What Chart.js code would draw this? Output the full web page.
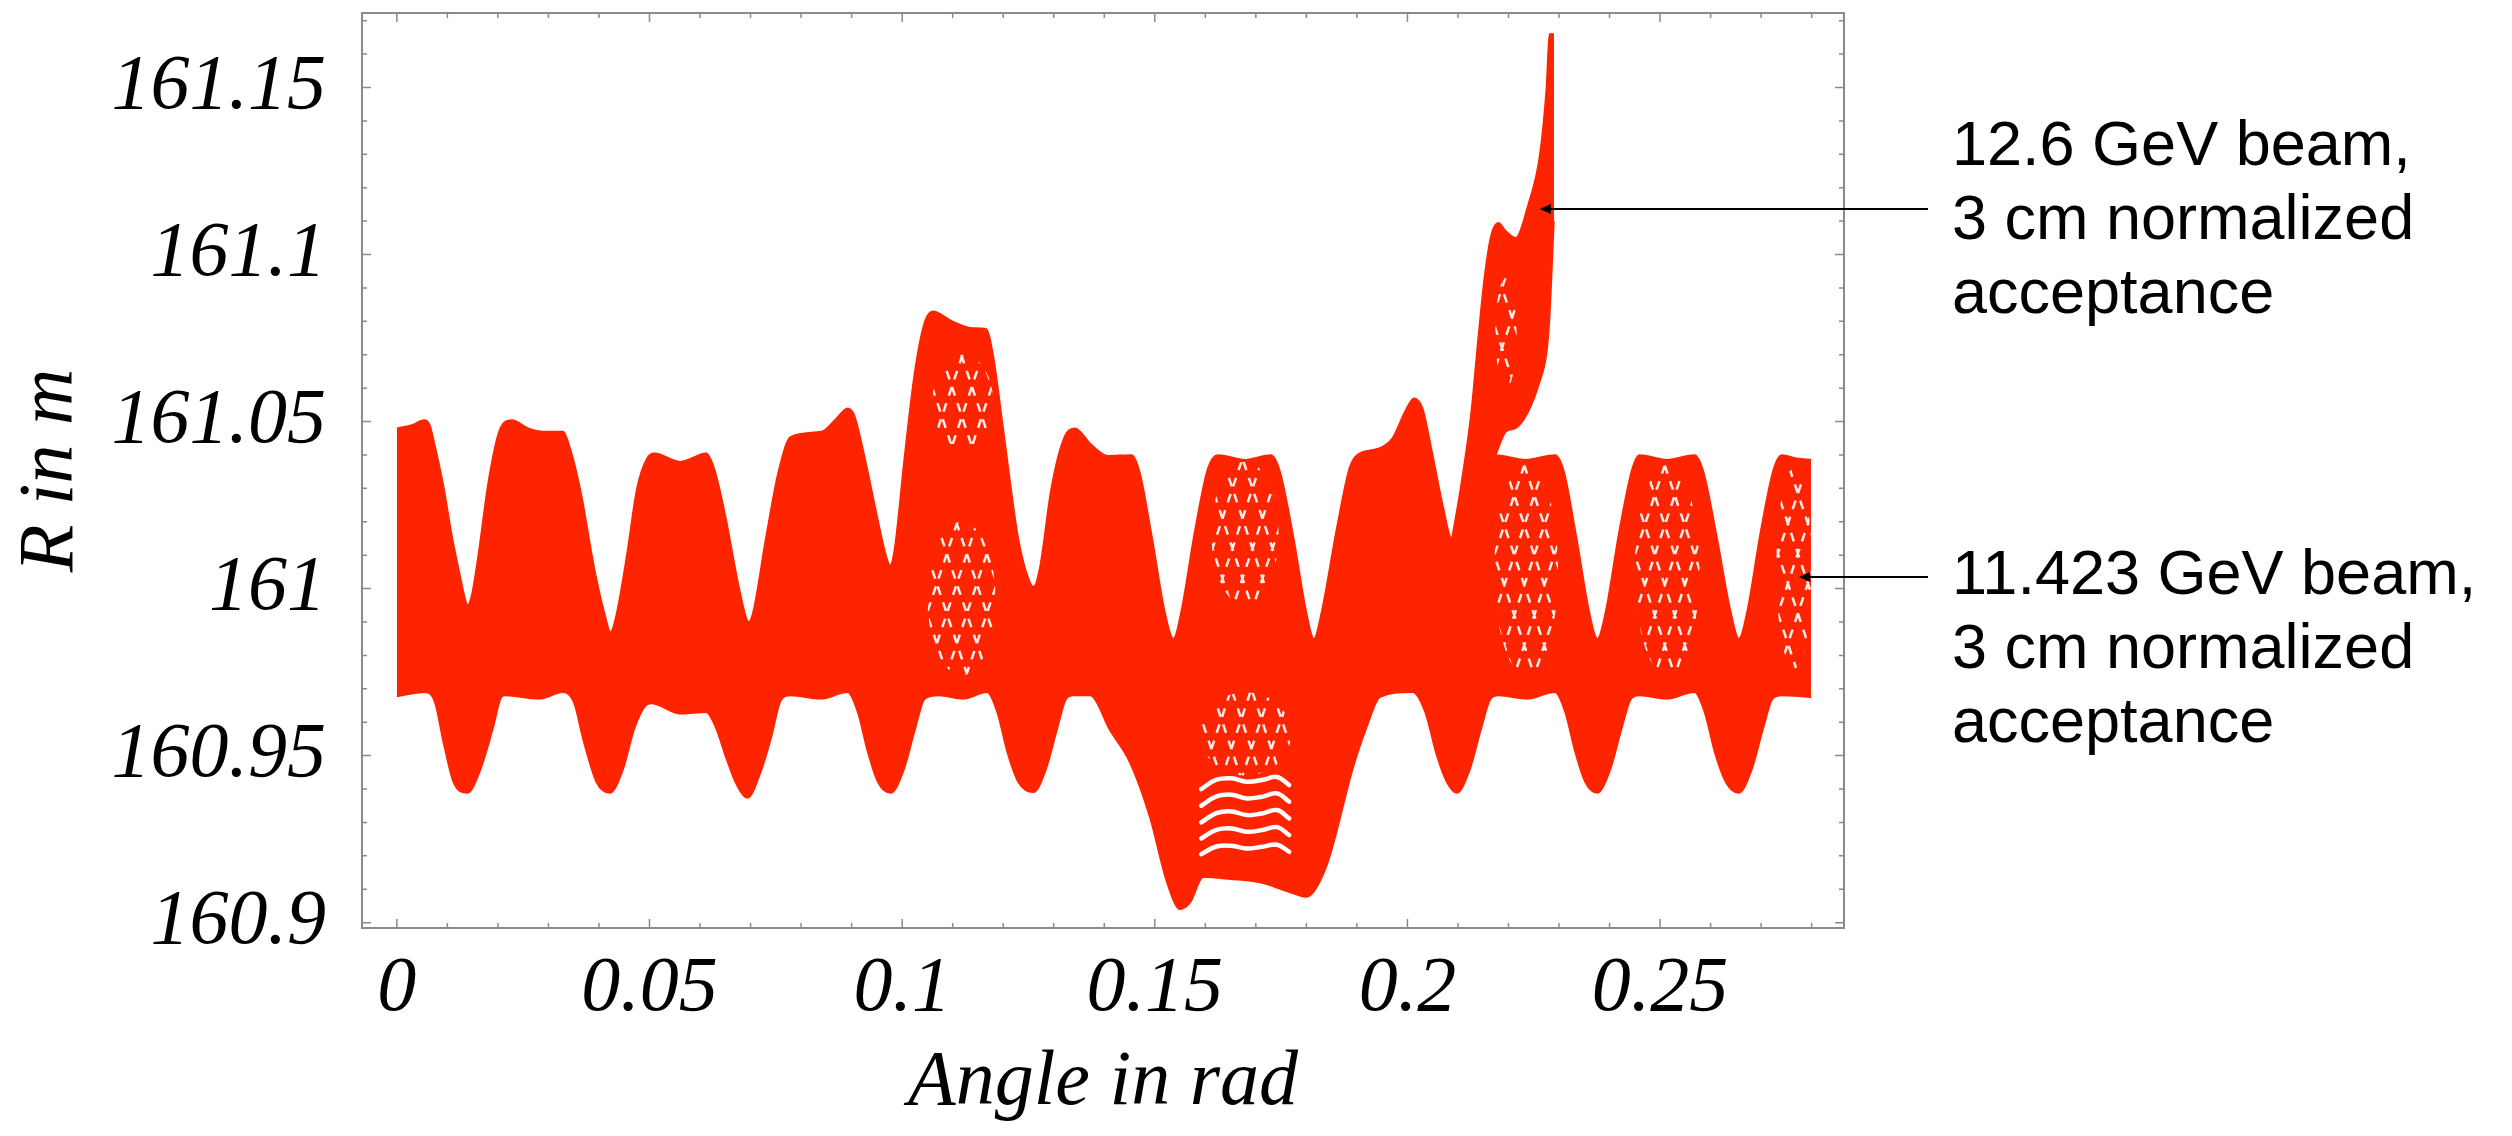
<!DOCTYPE html>
<html>
<head>
<meta charset="utf-8">
<script src="https://cdn.jsdelivr.net/npm/chart.js@4.4.1/dist/chart.umd.min.js"></script>
<style>
  html, body { margin: 0; padding: 0; background: #fff; }
</style>
</head>
<body>
<canvas id="c" width="2512" height="1136"></canvas>
<script>
  // Hüllkurven des Strahlbands (Winkel in rad, R in m)
  var upperAngle = [0.0000, 0.0030, 0.0054, 0.0065, 0.0075, 0.0092, 0.0110, 0.0125, 0.0135, 0.0140, 0.0148, 0.0162, 0.0180, 0.0200, 0.0214, 0.0228, 0.0260, 0.0290, 0.0329, 0.0343, 0.0364, 0.0391, 0.0412, 0.0423, 0.0434, 0.0455, 0.0475, 0.0495, 0.0510, 0.0561, 0.0612, 0.0628, 0.0650, 0.0675, 0.0690, 0.0696, 0.0705, 0.0730, 0.0755, 0.0779, 0.0840, 0.0870, 0.0892, 0.0905, 0.0925, 0.0950, 0.0968, 0.0976, 0.0985, 0.1005, 0.1025, 0.1045, 0.1061, 0.1100, 0.1140, 0.1166, 0.1180, 0.1200, 0.1230, 0.1250, 0.1260, 0.1272, 0.1295, 0.1320, 0.1342, 0.1375, 0.1407, 0.1454, 0.1470, 0.1495, 0.1520, 0.1537, 0.1552, 0.1580, 0.1605, 0.1625, 0.1679, 0.1730, 0.1748, 0.1775, 0.1800, 0.1815, 0.1830, 0.1860, 0.1885, 0.1900, 0.1944, 0.1970, 0.1995, 0.2013, 0.2030, 0.2050, 0.2070, 0.2088, 0.2105, 0.2130, 0.2155, 0.2173, 0.2234, 0.2292, 0.2310, 0.2335, 0.2360, 0.2376, 0.2392, 0.2420, 0.2445, 0.2459, 0.2514, 0.2568, 0.2586, 0.2613, 0.2640, 0.2656, 0.2672, 0.2700, 0.2725, 0.2741, 0.2770, 0.2799];
  var upperR = [161.048, 161.049, 161.0505, 161.049, 161.043, 161.031, 161.015, 161.004, 160.997, 160.995, 160.998, 161.011, 161.031, 161.046, 161.050, 161.0505, 161.048, 161.047, 161.047, 161.042, 161.029, 161.006, 160.992, 160.987, 160.992, 161.010, 161.030, 161.039, 161.0405, 161.038, 161.0405, 161.036, 161.022, 161.002, 160.992, 160.990, 160.993, 161.015, 161.035, 161.0454, 161.047, 161.051, 161.054, 161.052, 161.040, 161.022, 161.010, 161.007, 161.012, 161.040, 161.065, 161.080, 161.083, 161.080, 161.078, 161.0778, 161.070, 161.048, 161.015, 161.003, 161.0006, 161.006, 161.030, 161.045, 161.048, 161.043, 161.0398, 161.040, 161.035, 161.015, 160.993, 160.985, 160.993, 161.018, 161.036, 161.040, 161.0386, 161.040, 161.035, 161.015, 160.993, 160.985, 160.993, 161.018, 161.036, 161.040, 161.042, 161.045, 161.053, 161.057, 161.054, 161.040, 161.025, 161.015, 161.020, 161.033, 161.039, 161.040, 161.0386, 161.040, 161.035, 161.015, 160.993, 160.985, 160.993, 161.018, 161.036, 161.040, 161.0386, 161.040, 161.035, 161.015, 160.993, 160.985, 160.993, 161.018, 161.036, 161.040, 161.039, 161.0386];

  var lowerAngle = [0.0000, 0.0054, 0.0075, 0.0092, 0.0112, 0.0140, 0.0166, 0.0190, 0.0207, 0.0214, 0.0282, 0.0329, 0.0350, 0.0370, 0.0395, 0.0422, 0.0448, 0.0470, 0.0490, 0.0503, 0.0561, 0.0612, 0.0632, 0.0650, 0.0670, 0.0694, 0.0720, 0.0742, 0.0760, 0.0779, 0.0840, 0.0892, 0.0912, 0.0932, 0.0952, 0.0978, 0.1004, 0.1026, 0.1045, 0.1073, 0.1121, 0.1168, 0.1188, 0.1208, 0.1230, 0.1260, 0.1285, 0.1307, 0.1325, 0.1339, 0.1372, 0.1411, 0.1451, 0.1490, 0.1524, 0.1550, 0.1570, 0.1596, 0.1650, 0.1708, 0.1760, 0.1800, 0.1840, 0.1893, 0.1920, 0.1946, 0.2010, 0.2035, 0.2058, 0.2078, 0.2098, 0.2124, 0.2146, 0.2165, 0.2180, 0.2237, 0.2292, 0.2312, 0.2332, 0.2352, 0.2376, 0.2402, 0.2424, 0.2443, 0.2459, 0.2514, 0.2568, 0.2588, 0.2608, 0.2630, 0.2656, 0.2682, 0.2704, 0.2723, 0.2741, 0.2799];
  var lowerR = [160.9677, 160.969, 160.966, 160.954, 160.942, 160.9388, 160.946, 160.958, 160.9675, 160.968, 160.967, 160.969, 160.966, 160.954, 160.942, 160.9388, 160.946, 160.958, 160.9645, 160.9656, 160.9625, 160.963, 160.958, 160.950, 160.942, 160.9373, 160.945, 160.956, 160.9665, 160.968, 160.967, 160.969, 160.963, 160.951, 160.942, 160.9388, 160.946, 160.958, 160.967, 160.968, 160.967, 160.969, 160.963, 160.951, 160.942, 160.939, 160.946, 160.958, 160.967, 160.968, 160.968, 160.9576, 160.9478, 160.9316, 160.912, 160.904, 160.906, 160.9136, 160.913, 160.912, 160.9095, 160.9077, 160.917, 160.9466, 160.9587, 160.9675, 160.969, 160.963, 160.950, 160.942, 160.9388, 160.946, 160.958, 160.967, 160.968, 160.967, 160.969, 160.963, 160.951, 160.942, 160.9388, 160.946, 160.958, 160.967, 160.968, 160.967, 160.969, 160.963, 160.951, 160.942, 160.9388, 160.946, 160.958, 160.967, 160.968, 160.9675];

  // Ausreißer des 12.6-GeV-Strahls bei ~0.22 rad
  var spikeAngle = [0.2088, 0.2105, 0.2126, 0.2140, 0.2153, 0.2166, 0.2180, 0.2195, 0.2214, 0.2238, 0.2262, 0.2275, 0.2281, 0.2290];
  var spikeLowR  = [161.015, 161.015, 161.020, 161.025, 161.030, 161.036, 161.042, 161.047, 161.048, 161.0526, 161.062, 161.070, 161.080, 161.110];
  var spikeHighR = [161.015, 161.030, 161.0526, 161.075, 161.094, 161.106, 161.1095, 161.107, 161.105, 161.1145, 161.130, 161.150, 161.166, 161.166];

  // weiße Lücken zwischen den Bahnen in der Senke bei 0.16-0.18 rad
  var gapAngle = [0.1592, 0.1622, 0.1652, 0.1682, 0.1712, 0.1742, 0.1766];
  var gapWavy = [
    [160.9400, 160.9428, 160.9432, 160.9422, 160.9427, 160.9436, 160.9412],
    [160.9350, 160.9378, 160.9383, 160.9372, 160.9377, 160.9387, 160.9362],
    [160.9300, 160.9328, 160.9333, 160.9322, 160.9327, 160.9337, 160.9312],
    [160.9252, 160.9278, 160.9282, 160.9272, 160.9277, 160.9286, 160.9262],
    [160.9205, 160.9228, 160.9230, 160.9222, 160.9227, 160.9233, 160.9212]
  ];

  // Bereiche mit Gitter aus weißen Lücken (Winkel von/bis, R von/bis)
  var hatchFrom = [0.1590, 0.1060, 0.1050, 0.1612, 0.2172, 0.2450, 0.2730, 0.2174];
  var hatchTo   = [0.1770, 0.1180, 0.1185, 0.1745, 0.2298, 0.2578, 0.2800, 0.2216];
  var hatchLowR  = [160.9440, 161.0420, 160.9740, 160.9950, 160.9740, 160.9740, 160.9760, 161.0600];
  var hatchHighR = [160.9690, 161.0700, 161.0200, 161.0380, 161.0370, 161.0370, 161.0360, 161.0930];

  var xTicks = [0, 0.05, 0.1, 0.15, 0.2, 0.25];
  var xTickLabels = ['0', '0.05', '0.1', '0.15', '0.2', '0.25'];
  var yTicks = [160.9, 160.95, 161, 161.05, 161.1, 161.15];
  var yTickLabels = ['160.9', '160.95', '161', '161.05', '161.1', '161.15'];

  // Beschriftungen rechts: Pfeilspitze in Datenkoordinaten
  var noteLines = [
    ['12.6 GeV beam,', '3 cm normalized', 'acceptance'],
    ['11.423 GeV beam,', '3 cm normalized', 'acceptance']
  ];
  var noteTipAngle = [0.2262, 0.2775];
  var noteTipR = [161.1136, 161.0034];

  var RED = 'rgb(255,36,0)';
  var FRAME = '#8a8a8a';
  var SERIF = { family: 'Liberation Serif', style: 'italic', size: 78, lineHeight: 1 };

  function pts(xs, ys) { return xs.map(function (x, i) { return { x: x, y: ys[i] }; }); }
  function band(xs, ys, fill) {
    return {
      data: pts(xs, ys), borderColor: RED, backgroundColor: RED, borderWidth: 1.5,
      pointRadius: 0, fill: fill, cubicInterpolationMode: 'monotone'
    };
  }
  function gap(ys) {
    return {
      data: pts(gapAngle, ys), borderColor: '#fff', borderWidth: 4.5, pointRadius: 0,
      fill: false, tension: 0.4, borderCapStyle: 'round', order: -1
    };
  }

  var datasets = [
    band(lowerAngle, lowerR, false),
    band(upperAngle, upperR, '-1'),
    band(spikeAngle, spikeLowR, false),
    band(spikeAngle, spikeHighR, '-1')
  ];
  gapWavy.forEach(function (ys) { datasets.push(gap(ys)); });

  // Kreuzschraffur (Überlagerung vieler Bahnen): gestrichelte weiße Diagonalen, elliptisch begrenzt
  var hatchPlugin = {
    id: 'hatch',
    afterDatasetsDraw: function (chart) {
      var ctx = chart.ctx, sx = chart.scales.x, sy = chart.scales.y;
      ctx.save();
      ctx.strokeStyle = 'rgba(255,255,255,0.92)';
      ctx.lineWidth = 2.5;
      ctx.setLineDash([9, 8]);
      hatchFrom.forEach(function (x0, k) {
        var l = sx.getPixelForValue(x0), r = sx.getPixelForValue(hatchTo[k]);
        var t = sy.getPixelForValue(hatchHighR[k]), b = sy.getPixelForValue(hatchLowR[k]);
        ctx.save();
        ctx.beginPath();
        ctx.ellipse((l + r) / 2, (t + b) / 2, (r - l) / 2, (b - t) / 2, 0, 0, Math.PI * 2);
        ctx.clip();
        ctx.beginPath();
        var run = (b - t) / 3;
        for (var s = l - run; s < r + run; s += 20) {
          ctx.moveTo(s, t); ctx.lineTo(s + run, b);
          ctx.moveTo(s + run + 10, t); ctx.lineTo(s + 10, b);
        }
        ctx.stroke();
        ctx.restore();
      });
      ctx.restore();
    }
  };

  // Rahmen mit nach innen zeigenden Ticks auf allen vier Seiten (Mathematica-Stil)
  var framePlugin = {
    id: 'frame',
    afterDraw: function (chart) {
      var ctx = chart.ctx, a = chart.chartArea, sx = chart.scales.x, sy = chart.scales.y;
      ctx.save();
      ctx.strokeStyle = FRAME;
      ctx.lineWidth = 2;
      ctx.strokeRect(a.left, a.top, a.right - a.left, a.bottom - a.top);
      ctx.lineWidth = 1.5;
      ctx.beginPath();
      for (var i = 0; i <= 28; i++) {
        var px = sx.getPixelForValue(i / 100), len = i % 5 === 0 ? 9 : 5;
        ctx.moveTo(px, a.bottom); ctx.lineTo(px, a.bottom - len);
        ctx.moveTo(px, a.top); ctx.lineTo(px, a.top + len);
      }
      for (var j = 0; j <= 27; j++) {
        var py = sy.getPixelForValue(160.9 + j / 100), l2 = j % 5 === 0 ? 9 : 5;
        ctx.moveTo(a.left, py); ctx.lineTo(a.left + l2, py);
        ctx.moveTo(a.right, py); ctx.lineTo(a.right - l2, py);
      }
      ctx.stroke();
      ctx.restore();
    }
  };

  var notesPlugin = {
    id: 'notes',
    afterDraw: function (chart) {
      var ctx = chart.ctx, sx = chart.scales.x, sy = chart.scales.y;
      var baseY = [165, 594], lineEnd = 1928, textX = 1952;
      ctx.save();
      ctx.fillStyle = '#000';
      ctx.strokeStyle = '#000';
      ctx.font = '63px "Liberation Sans", Arial, sans-serif';
      ctx.textBaseline = 'alphabetic';
      noteLines.forEach(function (lines, k) {
        lines.forEach(function (t, n) { ctx.fillText(t, textX, baseY[k] + n * 74); });
        var tx = sx.getPixelForValue(noteTipAngle[k]);
        var ty = Math.round(sy.getPixelForValue(noteTipR[k]));
        ctx.lineWidth = 2;
        ctx.beginPath(); ctx.moveTo(lineEnd, ty); ctx.lineTo(tx + 6, ty); ctx.stroke();
        ctx.beginPath(); ctx.moveTo(tx, ty); ctx.lineTo(tx + 11, ty - 5); ctx.lineTo(tx + 11, ty + 5); ctx.closePath(); ctx.fill();
      });
      ctx.restore();
    }
  };

  new Chart(document.getElementById('c').getContext('2d'), {
    type: 'line',
    data: { datasets: datasets },
    options: {
      responsive: false, animation: false, devicePixelRatio: 1,
      layout: { padding: { left: 0, right: 668, top: 13, bottom: 0 } },
      plugins: { legend: { display: false }, tooltip: { enabled: false } },
      scales: {
        x: {
          type: 'linear', min: -0.0069, max: 0.2864,
          afterBuildTicks: function (s) { s.ticks = xTicks.map(function (v) { return { value: v }; }); },
          afterFit: function (s) { s.height = 208; s.paddingLeft = 0; s.paddingRight = 0; },
          ticks: {
            autoSkip: false, maxRotation: 0, padding: 22, color: '#000', font: SERIF,
            callback: function (v, i) { return xTickLabels[i]; }
          },
          grid: { display: false, drawTicks: false },
          border: { display: false },
          title: { display: true, text: 'Angle in rad', color: '#000', font: SERIF, padding: { top: 0, bottom: 14 } }
        },
        y: {
          type: 'linear', min: 160.8984, max: 161.1723,
          afterBuildTicks: function (s) { s.ticks = yTicks.map(function (v) { return { value: v }; }); },
          afterFit: function (s) { s.width = 362; s.paddingTop = 0; s.paddingBottom = 0; },
          ticks: {
            padding: 36, color: '#000', font: SERIF,
            callback: function (v, i) { return yTickLabels[i]; }
          },
          grid: { display: false, drawTicks: false },
          border: { display: false },
          title: { display: true, text: 'R in m', color: '#000', font: SERIF, padding: { top: 12, bottom: 0 } }
        }
      }
    },
    plugins: [hatchPlugin, framePlugin, notesPlugin]
  });
</script>
</body>
</html>
